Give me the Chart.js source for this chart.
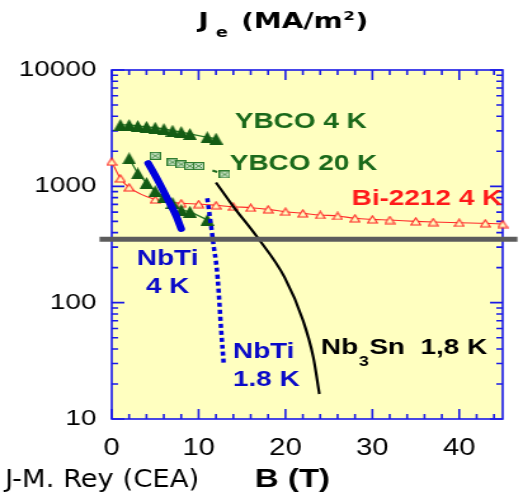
<!DOCTYPE html>
<html>
<head>
<meta charset="utf-8">
<script src="https://cdn.jsdelivr.net/npm/chart.js@4.4.1/dist/chart.umd.min.js"></script>
<style>
  html, body { margin: 0; padding: 0; background: #fff; overflow: hidden; }
  #wrap { width: 523px; height: 495px; overflow: hidden; }
  /* the source picture is stretched sideways, so the canvas is drawn narrow and widened here */
  #chart { display: block; width: 412px; height: 495px; transform: scaleX(1.2694); transform-origin: 0 0; }
</style>
</head>
<body>
<div id="wrap"><canvas id="chart" width="412" height="495"></canvas></div>
<script>
// B (T) and Je (MA/m2)
const ybco4kB = [1, 2, 3, 4, 5, 6, 7, 8, 9, 11, 12];
const ybco4kJ = [3370, 3370, 3300, 3250, 3190, 3110, 3010, 2930, 2820, 2640, 2570];

const ybco4kPerpB = [2, 3, 4, 5, 6, 7, 8, 9, 11];
const ybco4kPerpJ = [1740, 1290, 1070, 910, 815, 720, 625, 605, 515];

const ybco20kB = [5, 7, 8, 9, 10, 13];
const ybco20kJ = [1830, 1610, 1545, 1495, 1495, 1265];

const bi2212B = [0, 1, 2, 5, 8, 10, 12, 14, 16, 18, 20, 22, 24, 26, 28, 30, 32, 35, 37, 40, 43, 45];
const bi2212J = [1630, 1170, 980, 770, 715, 704, 687, 668, 655, 634, 605, 586, 567, 556, 531, 520, 513, 500, 493, 486, 481, 474];

const nbti4kB = [4.2, 5.3, 6.5, 7.45, 8.0];
const nbti4kJ = [1580, 1130, 760, 550, 430];

const nbti18kB = [11.0, 11.5, 11.75, 12.0, 12.2, 12.6, 12.9];
const nbti18kJ = [790, 420, 300, 225, 160, 58, 29];

const nb3snB = [12.0, 14.0, 16.7, 19.9, 22.0, 23.2, 23.9];
const nb3snJ = [1080, 670, 370, 165, 71, 34, 16.4];

// grey limit line, runs a little past both sides of the frame
const limitB = [-1.4, 46.7];
const limitJ = [350, 350];

// tick labels
const xTicks = [0, 10, 20, 30, 40];
const yTicks = [10, 100, 1000, 10000];

function pts(xs, ys) {
  return xs.map((x, i) => ({ x: x, y: ys[i] }));
}

// small marker pictures (drawn narrow, the CSS stretch widens them)
function markerCanvas(w, h, draw) {
  const c = document.createElement("canvas");
  c.width = w;
  c.height = h;
  draw(c.getContext("2d"), w, h);
  return c;
}

const greenTriangle = markerCanvas(11, 12, (g, w, h) => {
  g.fillStyle = "#145c14";
  g.beginPath();
  g.moveTo(w / 2, 0);
  g.lineTo(w, h);
  g.lineTo(0, h);
  g.closePath();
  g.fill();
});

const redTriangle = markerCanvas(9, 9, (g, w, h) => {
  g.fillStyle = "#ffffc0";
  g.strokeStyle = "#ff2020";
  g.lineWidth = 1.1;
  g.beginPath();
  g.moveTo(w / 2, 1);
  g.lineTo(w - 0.7, h - 1);
  g.lineTo(0.7, h - 1);
  g.closePath();
  g.fill();
  g.stroke();
});

const crossSquare = markerCanvas(9, 8, (g, w, h) => {
  g.fillStyle = "#d6ebd0";
  g.fillRect(0.5, 0.5, w - 1, h - 1);
  g.strokeStyle = "#2f7d2f";
  g.lineWidth = 1.2;
  g.strokeRect(0.6, 0.6, w - 1.2, h - 1.2);
  g.lineWidth = 0.9;
  g.beginPath();
  g.moveTo(2, 2);
  g.lineTo(w - 2, h - 2);
  g.moveTo(w - 2, 2);
  g.lineTo(2, h - 2);
  g.stroke();
});

// text placed on the plot
const notes = [
  { text: "YBCO 4 K", x: 185, y: 128, color: "#1a691a" },
  { text: "YBCO 20 K", x: 181, y: 170, color: "#1a691a" },
  { text: "Bi-2212 4 K", x: 277, y: 205, color: "#ff1a1a" },
  { text: "NbTi", x: 132, y: 265, color: "#0a0ac8", align: "center" },
  { text: "4 K", x: 132, y: 293, color: "#0a0ac8", align: "center" },
  { text: "NbTi", x: 183.5, y: 358, color: "#0a0ac8" },
  { text: "1.8 K", x: 183.5, y: 386, color: "#0a0ac8" },
];

const labelFont = "bold 22px 'Liberation Sans', Arial, sans-serif";

const backdrop = {
  id: "backdrop",
  beforeDraw(chart) {
    const { ctx, chartArea: a } = chart;
    ctx.save();
    ctx.fillStyle = "#ffffff";
    ctx.fillRect(0, 0, chart.width, chart.height);
    ctx.fillStyle = "#ffffc0";
    ctx.fillRect(a.left, a.top, a.right - a.left, a.bottom - a.top);
    ctx.restore();
  },
  beforeDatasetsDraw(chart) {
    const { ctx, chartArea: a, scales } = chart;
    const x = scales.x;
    const y = scales.y;
    ctx.save();
    ctx.strokeStyle = "#1a1ae6";
    ctx.lineWidth = 1.6;
    ctx.beginPath();
    // inward ticks every 2 T, longer every 10 T
    for (let b = 0; b <= 44; b += 2) {
      const px = x.getPixelForValue(b);
      const len = b % 10 === 0 ? 10 : 5;
      ctx.moveTo(px, a.bottom);
      ctx.lineTo(px, a.bottom - len);
      ctx.moveTo(px, a.top);
      ctx.lineTo(px, a.top + len);
    }
    // inward log ticks, longer at each decade
    for (let e = 1; e <= 4; e++) {
      for (let m = 1; m <= 9; m++) {
        const v = m * Math.pow(10, e);
        if (v > 10000) break;
        const py = y.getPixelForValue(v);
        const len = m === 1 ? 10 : 5;
        ctx.moveTo(a.left, py);
        ctx.lineTo(a.left + len, py);
        ctx.moveTo(a.right, py);
        ctx.lineTo(a.right - len, py);
      }
    }
    ctx.stroke();
    ctx.strokeRect(a.left, a.top, a.right - a.left, a.bottom - a.top);
    ctx.restore();
  },
  afterDraw(chart) {
    const ctx = chart.ctx;
    ctx.save();
    ctx.textBaseline = "alphabetic";

    notes.forEach((n) => {
      ctx.font = labelFont;
      ctx.fillStyle = n.color;
      ctx.textAlign = n.align || "left";
      ctx.fillText(n.text, n.x, n.y);
    });

    // Nb3Sn 1,8 K with subscript
    ctx.textAlign = "left";
    ctx.fillStyle = "#000";
    let cx = 252.8;
    ctx.font = labelFont;
    ctx.fillText("Nb", cx, 354);
    cx += ctx.measureText("Nb").width + 0.5;
    ctx.font = "bold 14px 'Liberation Sans', Arial, sans-serif";
    ctx.fillText("3", cx, 366);
    cx += ctx.measureText("3").width + 0.5;
    ctx.font = labelFont;
    ctx.fillText("Sn  1,8 K", cx, 354);

    // title Je (MA/m2)
    const big = "bold 22px 'DejaVu Sans', Verdana, sans-serif";
    const small = "bold 14px 'DejaVu Sans', Verdana, sans-serif";
    ctx.font = big;
    ctx.fillText("J", 156.2, 28);
    ctx.font = small;
    ctx.fillText("e", 170, 37);
    ctx.font = big;
    ctx.fillText("(MA/m", 190, 28);
    cx = 190 + ctx.measureText("(MA/m").width + 0.5;
    ctx.font = "bold 13px 'DejaVu Sans', Verdana, sans-serif";
    ctx.fillText("2", cx, 20);
    cx += ctx.measureText("2").width + 0.5;
    ctx.font = big;
    ctx.fillText(")", cx, 28);

    // bottom line
    ctx.font = "24px 'DejaVu Sans Condensed', 'DejaVu Sans', sans-serif";
    ctx.fillText("J-M. Rey (CEA)", 4, 487);
    ctx.font = "bold 26px 'Liberation Sans', Arial, sans-serif";
    ctx.fillText("B (T)", 200.8, 487);
    ctx.restore();
  },
};

new Chart(document.getElementById("chart"), {
  type: "line",
  data: {
    datasets: [
      {
        label: "limit",
        data: pts(limitB, limitJ),
        borderColor: "#5c5c5c",
        borderWidth: 5,
        pointRadius: 0,
        order: 0,
      },
      {
        label: "NbTi 4 K",
        data: pts(nbti4kB, nbti4kJ),
        borderColor: "#0000dd",
        borderWidth: 6,
        borderCapStyle: "round",
        cubicInterpolationMode: "monotone",
        pointRadius: 0,
        order: 1,
      },
      {
        label: "NbTi 1.8 K",
        data: pts(nbti18kB, nbti18kJ),
        borderColor: "#0000dd",
        borderWidth: 3.5,
        borderDash: [4, 3],
        cubicInterpolationMode: "monotone",
        pointRadius: 0,
        order: 2,
      },
      {
        label: "Nb3Sn 1,8 K",
        data: pts(nb3snB, nb3snJ),
        borderColor: "#000000",
        borderWidth: 2.2,
        cubicInterpolationMode: "monotone",
        pointRadius: 0,
        order: 3,
      },
      {
        label: "YBCO 4 K perp",
        data: pts(ybco4kPerpB, ybco4kPerpJ),
        borderColor: "#2a7a2a",
        borderWidth: 1.3,
        pointStyle: greenTriangle,
        pointRadius: 5,
        order: 4,
      },
      {
        label: "YBCO 4 K",
        data: pts(ybco4kB, ybco4kJ),
        borderColor: "#2a7a2a",
        borderWidth: 1.3,
        pointStyle: greenTriangle,
        pointRadius: 5,
        order: 5,
      },
      {
        label: "YBCO 20 K",
        data: pts(ybco20kB, ybco20kJ),
        borderColor: "#1f6a1f",
        borderWidth: 2,
        borderDash: [4, 8],
        pointStyle: crossSquare,
        pointRadius: 5,
        order: 6,
      },
      {
        label: "Bi-2212 4 K",
        data: pts(bi2212B, bi2212J),
        borderColor: "#ff2a2a",
        borderWidth: 1.1,
        cubicInterpolationMode: "monotone",
        pointStyle: redTriangle,
        pointRadius: 5,
        order: 7,
      },
    ].map((d) => Object.assign({ clip: false, fill: false }, d)),
  },
  options: {
    responsive: false,
    animation: false,
    layout: { padding: { top: 70, right: 16, left: 0, bottom: 0 } },
    plugins: {
      legend: { display: false },
      tooltip: { enabled: false },
    },
    scales: {
      x: {
        type: "linear",
        min: 0,
        max: 45,
        grid: { display: false, drawTicks: false },
        border: { display: false },
        ticks: {
          stepSize: 10,
          includeBounds: false,
          padding: 16,
          color: "#000",
          font: { family: "'Liberation Sans', Arial, sans-serif", size: 23 },
          callback: (v) => (xTicks.includes(v) ? String(v) : ""),
        },
        afterFit: (scale) => {
          scale.height = 76;
        },
      },
      y: {
        type: "logarithmic",
        min: 10,
        max: 10000,
        grid: { display: false, drawTicks: false },
        border: { display: false },
        ticks: {
          autoSkip: false,
          padding: 12,
          color: "#000",
          font: { family: "'Liberation Sans', Arial, sans-serif", size: 22 },
          callback: (v) => (yTicks.includes(v) ? String(v) : ""),
        },
        afterFit: (scale) => {
          scale.width = 88;
        },
      },
    },
  },
  plugins: [backdrop],
});
</script>
</body>
</html>
